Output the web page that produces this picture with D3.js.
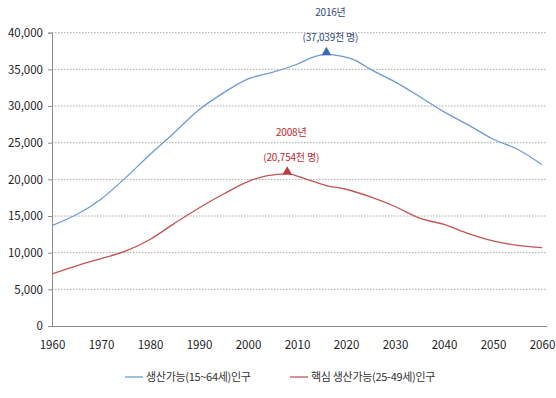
<!DOCTYPE html>
<html>
<head>
<meta charset="utf-8">
<script src="https://cdn.jsdelivr.net/npm/d3@7"></script>
<style>
  html, body { margin: 0; padding: 0; background: #fff; }
  svg text { font-family: "Noto Sans CJK KR", "Noto Sans", sans-serif; }
</style>
</head>
<body>
<svg id="chart" width="556" height="398"></svg>
<script>
// Working-age population (thousands), 1960-2060
const workingYears = [1960, 1965, 1970, 1975, 1980, 1985, 1990, 1995, 2000, 2005, 2010, 2013, 2016, 2019, 2022, 2025, 2030, 2035, 2040, 2045, 2050, 2055, 2060];
const workingValues = [13700, 15200, 17300, 20200, 23400, 26400, 29500, 31800, 33700, 34600, 35700, 36600, 37039, 36800, 36200, 35000, 33300, 31300, 29200, 27400, 25500, 24100, 22000];

const coreYears = [1960, 1965, 1970, 1975, 1980, 1985, 1990, 1995, 2000, 2004, 2008, 2012, 2016, 2020, 2025, 2030, 2035, 2040, 2045, 2050, 2055, 2060];
const coreValues = [7100, 8200, 9200, 10200, 11800, 14000, 16100, 18000, 19700, 20500, 20754, 20000, 19150, 18650, 17600, 16300, 14700, 13850, 12600, 11600, 11000, 10700];

const xTicks = [1960, 1970, 1980, 1990, 2000, 2010, 2020, 2030, 2040, 2050, 2060];
const yTicks = [0, 5000, 10000, 15000, 20000, 25000, 30000, 35000, 40000];

const seriesNames = ["생산가능(15~64세)인구", "핵심 생산가능(25-49세)인구"];
const peakYears = [2016, 2008];
const peakLabels = ["2016년", "2008년"];

const blue = "#6b9bd6";
const red = "#c25457";
const blueText = "#2f4a72";
const redText = "#c0282d";

const svg = d3.select("#chart");
const plotLeft = 52, plotRight = 542, plotTop = 32.7, plotBottom = 326;

const x = d3.scaleLinear().domain([1960, 2060]).range([plotLeft, plotRight]);
const y = d3.scaleLinear().domain([0, 40000]).range([plotBottom, plotTop]);

// horizontal dotted gridlines
svg.append("g").selectAll("line")
  .data(yTicks.filter(d => d > 0))
  .join("line")
  .attr("x1", plotLeft).attr("x2", 547)
  .attr("y1", d => y(d)).attr("y2", d => y(d))
  .attr("stroke", "#a8a8a8").attr("stroke-width", 1)
  .attr("stroke-dasharray", "1.5,1.5");

// y axis
const yAxis = svg.append("g")
  .attr("transform", `translate(${plotLeft},0)`)
  .call(d3.axisLeft(y).tickValues(yTicks).tickFormat(d3.format(",")).tickSize(4).tickPadding(5));
yAxis.select(".domain").attr("stroke", "#8c8c8c");
yAxis.selectAll(".tick line").attr("stroke", "#8c8c8c");
yAxis.selectAll("text").attr("font-size", 11.5).attr("fill", "#222");

// x axis
const xAxis = svg.append("g")
  .attr("transform", `translate(0,${plotBottom})`)
  .call(d3.axisBottom(x).tickValues(xTicks).tickFormat(d3.format("d")).tickSize(0).tickPadding(15));
xAxis.select(".domain").attr("stroke", "#8c8c8c").attr("d", `M${plotLeft},0.5H547`);
xAxis.selectAll("text").attr("font-size", 11.5).attr("fill", "#222");

const line = d3.line()
  .x(d => x(d[0])).y(d => y(d[1]))
  .curve(d3.curveMonotoneX);

const working = workingYears.map((yr, i) => [yr, workingValues[i]]);
const core = coreYears.map((yr, i) => [yr, coreValues[i]]);

svg.append("path").datum(working).attr("d", line)
  .attr("fill", "none").attr("stroke", blue).attr("stroke-width", 1.3);
svg.append("path").datum(core).attr("d", line)
  .attr("fill", "none").attr("stroke", red).attr("stroke-width", 1.3);

// peak markers and labels
const peaks = [
  { year: peakYears[0], value: workingValues[workingYears.indexOf(peakYears[0])], label: peakLabels[0], color: "#3a6ab8", text: blueText },
  { year: peakYears[1], value: coreValues[coreYears.indexOf(peakYears[1])], label: peakLabels[1], color: "#c0393d", text: redText }
];
const tri = d3.symbol().type(d3.symbolTriangle).size(40);
peaks.forEach(p => {
  const px = x(p.year), py = y(p.value);
  svg.append("path").attr("d", tri)
    .attr("transform", `translate(${px},${py - 2})`)
    .attr("fill", p.color);
  svg.append("text").attr("x", px + 4).attr("y", py - 38)
    .attr("text-anchor", "middle").attr("font-size", 10).attr("letter-spacing", -0.2)
    .attr("fill", p.text).text(p.label);
  svg.append("text").attr("x", px + 4).attr("y", py - 13)
    .attr("text-anchor", "middle").attr("font-size", 10).attr("letter-spacing", -0.2)
    .attr("fill", p.text).text(`(${d3.format(",")(p.value)}천 명)`);
});

// legend
const legend = [
  { name: seriesNames[0], color: blue, x0: 125 },
  { name: seriesNames[1], color: red, x0: 290 }
];
legend.forEach(l => {
  svg.append("line").attr("x1", l.x0).attr("x2", l.x0 + 18)
    .attr("y1", 377).attr("y2", 377)
    .attr("stroke", l.color).attr("stroke-width", 1.3);
  svg.append("text").attr("x", l.x0 + 21).attr("y", 381)
    .attr("font-size", 11).attr("letter-spacing", -0.3)
    .attr("fill", "#333").text(l.name);
});
</script>
</body>
</html>
